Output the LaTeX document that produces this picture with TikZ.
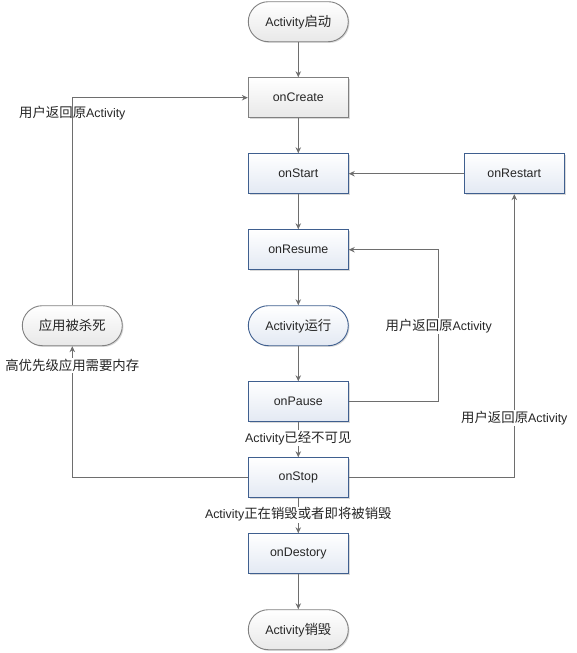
\documentclass[tikz,border=0pt]{standalone}
\usepackage{fontspec}
\setmainfont{Liberation Sans}
\newfontfamily\cjk[Scale=1.08]{Noto Sans CJK SC}
\usetikzlibrary{arrows.meta,shadows}
\definecolor{blueline}{HTML}{3F5F8F}
\definecolor{bluefill}{HTML}{E3E9F3}
\definecolor{greyline}{HTML}{808080}
\definecolor{greyfill}{HTML}{E8E8E8}
\definecolor{arrowgrey}{HTML}{6E6E6E}
\definecolor{txt}{HTML}{262626}

\begin{document}
\begin{tikzpicture}[x=1pt, y=1pt, node distance={76pt}, font=\fontsize{12.4}{14}\selectfont,
  main/.style = {draw=blueline, line width=0.9pt, minimum width=100pt, minimum height=40pt, inner sep=0pt,
    top color=white, bottom color=bluefill, text=txt,
    drop shadow={shadow xshift=1.2pt, shadow yshift=-1.2pt, fill=black, opacity=0.15}},
  grey/.style = {main, draw=greyline, bottom color=greyfill},
  term/.style = {rounded corners=20pt},
  flow/.style = {draw=arrowgrey, line width=0.9pt, -{Stealth[length=6pt,width=5.5pt]}},
  lbl/.style = {fill=white, inner sep=1pt, text=txt}]
\useasboundingbox (0,0) rectangle (576,-653);
\node[grey, term] (begin) at (298.3,-21.7) {Activity{\cjk 启动}};
\node[grey] (create) [below of=begin] {onCreate};
\node[main] (start) [below of=create] {onStart};
\node[main] (resume) [below of=start] {onResume};
\node[main, term] (run) [below of=resume] {Activity{\cjk 运行}};
\node[main] (pause) [below of=run] {onPause};
\node[main] (stop) [below of=pause] {onStop};
\node[main] (destroy) [below of=stop] {onDestory};
\node[grey, term] (end) [below of=destroy] {Activity{\cjk 销毁}};
\node[main] (restart) [node distance=216pt, right of=start] {onRestart};
\node[grey, term] (killed) [node distance=226pt, left of=run] {\cjk 应用被杀死};
\draw[flow] (begin) -- (create);
\draw[flow] (create) -- (start);
\draw[flow] (start) -- (resume);
\draw[flow] (resume) -- (run);
\draw[flow] (run) -- (pause);
\draw[flow] (pause) -- node[lbl, pos=0.45] {Activity{\cjk 已经不可见}} (stop);
\draw[flow] (stop) -- node[lbl, pos=0.47] {Activity{\cjk 正在销毁或者即将被销毁}} (destroy);
\draw[flow] (destroy) -- (end);
\draw[flow] (restart) -- (start);
\draw[flow] (pause.east) -- ++(90,0) |- node[lbl, pos=0.25] {{\cjk 用户返回原}Activity} (resume.east);
\draw[flow] (stop.east) -| node[lbl, pos=0.605] {{\cjk 用户返回原}Activity} (restart.south);
\draw[flow] (stop.west) -| node[lbl, pos=0.927] {\cjk 高优先级应用需要内存} (killed.south);
\draw[flow] (killed.north) |- node[pos=0.462, text=txt] {{\cjk 用户返回原}Activity} (create.west);
\end{tikzpicture}
\end{document}
